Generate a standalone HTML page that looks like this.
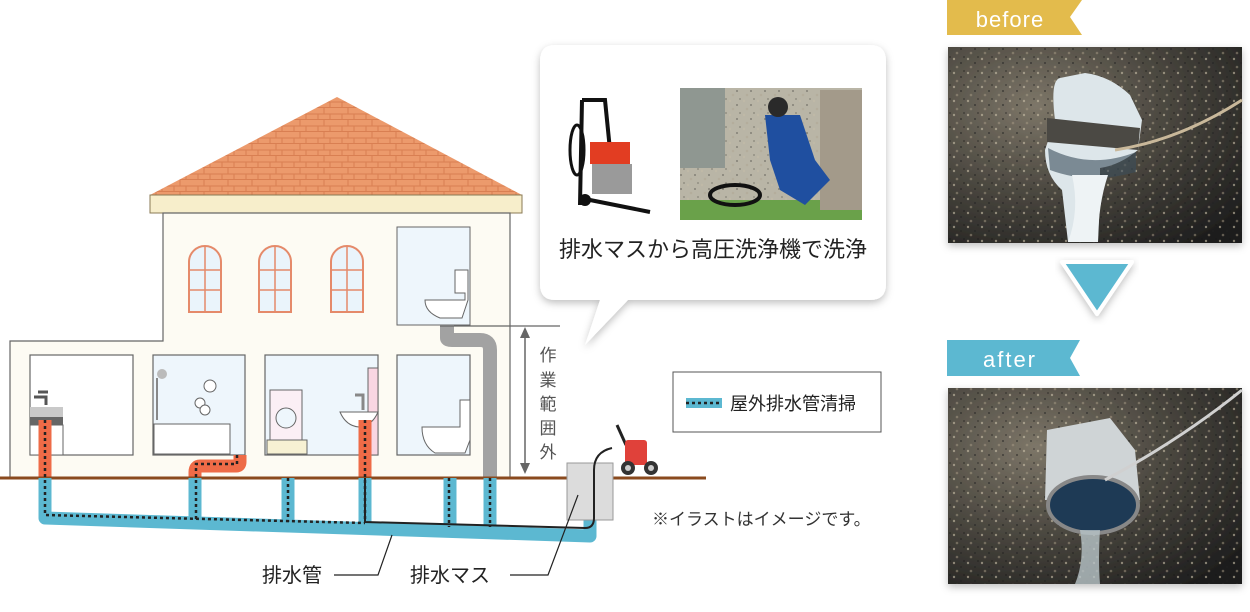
<!DOCTYPE html>
<html><head><meta charset="utf-8"><style>
html,body{margin:0;padding:0;background:#fff;width:1250px;height:612px;overflow:hidden}
svg{display:block}
text{font-family:"Liberation Sans","Noto Sans CJK JP",sans-serif}
</style></head><body>
<svg width="1250" height="612" viewBox="0 0 1250 612" xmlns="http://www.w3.org/2000/svg">
<defs>
<pattern id="brick" width="24" height="12" patternUnits="userSpaceOnUse">
<rect width="24" height="12" fill="#ec9a6c"/>
<path d="M0 11.5H24M12 0V6M0 6H24M6 6V12M18 6V12" stroke="#d97f52" stroke-width="1" fill="none"/>
</pattern>
<pattern id="speck" width="14" height="14" patternUnits="userSpaceOnUse">
<circle cx="2" cy="3" r="1.2" fill="#c9bfa8" opacity="0.6"/><circle cx="9" cy="7" r="1" fill="#222" opacity="0.6"/><circle cx="5" cy="11" r="1.3" fill="#a89c86" opacity="0.5"/><circle cx="12" cy="1" r="0.9" fill="#111" opacity="0.5"/>
</pattern>
<filter id="sh" x="-10%" y="-10%" width="120%" height="130%"><feDropShadow dx="0" dy="3" stdDeviation="4" flood-color="#000" flood-opacity="0.25"/></filter>
<radialGradient id="ph1" cx="0.3" cy="0.3" r="0.9"><stop offset="0" stop-color="#7d7668"/><stop offset="0.55" stop-color="#45423b"/><stop offset="1" stop-color="#1c1c1c"/></radialGradient>
</defs>

<polygon points="150,195 337,97 522,195" fill="url(#brick)"/>
<rect x="150" y="195" width="372" height="18" fill="#f7eecb" stroke="#8a7a55" stroke-width="1"/>
<path d="M163 213H510V478H10V341H163Z" fill="#fdfbf3" stroke="#666" stroke-width="1.2"/>
<g fill="#eaf4fb" stroke="#e58a6a" stroke-width="2">
<path d="M189 312V262A16 16 0 0 1 221 262V312Z"/><path d="M259 312V262A16 16 0 0 1 291 262V312Z"/><path d="M331 312V262A16 16 0 0 1 363 262V312Z"/>
</g>
<g stroke="#e58a6a" stroke-width="1.5">
<path d="M205 247V312M189 270H221M189 290H221"/><path d="M275 247V312M259 270H291M259 290H291"/><path d="M347 247V312M331 270H363M331 290H363"/>
</g>
<rect x="397" y="227" width="73" height="98" fill="#eef6fc" stroke="#666"/>
<path d="M425 300H465V293H455V270H468V300L462 318H440Q425 312 425 300Z" fill="#fff" stroke="#666"/>
<g fill="#eef6fc" stroke="#666" stroke-width="1.2">
<rect x="30" y="355" width="103" height="100" fill="#fff"/>
<rect x="153" y="355" width="92" height="100"/>
<rect x="265" y="355" width="113" height="100"/>
<rect x="397" y="355" width="73" height="100"/>
</g>
<rect x="30" y="407" width="33" height="10" fill="#c9c9c9"/><rect x="30" y="417" width="33" height="8" fill="#666"/>
<rect x="30" y="425" width="33" height="30" fill="#fff" stroke="#666"/>
<path d="M34 397H46V405M38 392H48" stroke="#555" stroke-width="3" fill="none"/>
<rect x="154" y="424" width="76" height="30" fill="#fff" stroke="#666"/>
<circle cx="162" cy="374" r="5" fill="#bbb"/><path d="M157 378V420" stroke="#888" stroke-width="2"/>
<g fill="#fff" stroke="#666"><circle cx="210" cy="386" r="6"/><circle cx="200" cy="403" r="5"/><circle cx="205" cy="410" r="5"/></g>
<rect x="270" y="390" width="32" height="50" fill="#fbeff5" stroke="#666"/><circle cx="286" cy="418" r="10" fill="#eef6fc" stroke="#666"/>
<rect x="267" y="440" width="40" height="14" fill="#f7f1d3" stroke="#666"/>
<rect x="368" y="368" width="10" height="87" fill="#f9d6e2" stroke="#666"/>
<path d="M340 412H378Q372 426 359 427Q346 426 340 412Z" fill="#fff" stroke="#666"/>
<path d="M355 395H363V410" stroke="#888" stroke-width="3" fill="none"/>
<path d="M422 427H460V400H470V440L465 453H435Q422 445 422 427Z" fill="#fff" stroke="#666"/>
<path d="M447 325V338Q447 340 452 340H480Q490 340 490 350V478" stroke="#a2a2a2" stroke-width="14" fill="none"/>
<path d="M440 326H560" stroke="#666" stroke-width="1.2"/>
<path d="M525 330V472" stroke="#666" stroke-width="1.5"/>
<polygon points="525,327 520,338 530,338" fill="#666"/><polygon points="525,474 520,463 530,463" fill="#666"/>
<g font-size="17" fill="#555" text-anchor="middle"><text x="548" y="361">作</text><text x="548" y="386">業</text><text x="548" y="410">範</text><text x="548" y="434">囲</text><text x="548" y="458">外</text></g>
<g stroke="#ee6b47" stroke-width="13" fill="none">
<path d="M45 420V478"/><path d="M365 420V478"/><path d="M240 455V462Q240 466 236 466H200Q195 466 195 472V478"/>
</g>
<path d="M0 478H706" stroke="#8a4a1e" stroke-width="3"/>
<g stroke="#5cb8d1" stroke-width="13" fill="none" stroke-linejoin="round">
<path d="M45 478V518L590 536V505"/>
<path d="M195 478V521M288 478V524M365 478V526M450 478V529M490 478V530"/>
</g>
<g stroke="#222" stroke-width="2.5" stroke-dasharray="3,3" fill="none">
<path d="M45 420V515L365 523"/>
<path d="M237 455V464H196V520"/><path d="M288 478V522"/><path d="M365 420V523"/><path d="M449 478V527"/><path d="M490 478V527"/>
</g>
<rect x="567" y="463" width="46" height="57" fill="#dcdcdc" stroke="#999"/>
<path d="M365 478V522L585 528Q594 528 594 518V470Q594 452 612 448" stroke="#222" stroke-width="2" fill="none"/>
<path d="M617 425L626 445" stroke="#222" stroke-width="3"/>
<rect x="625" y="440" width="22" height="25" rx="3" fill="#e0413a"/>
<circle cx="628" cy="468" r="7" fill="#333"/><circle cx="628" cy="468" r="3" fill="#ccc"/>
<circle cx="651" cy="468" r="7" fill="#333"/><circle cx="651" cy="468" r="3" fill="#ccc"/>
<path d="M334 575H378L392 535M510 575H548L578 495" stroke="#222" stroke-width="1.2" fill="none"/>
<text x="262" y="582" font-size="20" fill="#222">排水管</text>
<text x="410" y="582" font-size="20" fill="#222">排水マス</text>
<text x="652" y="525" font-size="17" fill="#333">※イラストはイメージです。</text>
<rect x="673" y="372" width="208" height="60" fill="#fff" stroke="#555"/>
<rect x="686" y="398" width="36" height="10" fill="#5cb8d1"/>
<path d="M686 403H722" stroke="#222" stroke-width="2.5" stroke-dasharray="3,3"/>
<text x="730" y="410" font-size="18" fill="#222">屋外排水管清掃</text>
<g filter="url(#sh)">
<path d="M555 45H870Q886 45 886 61V284Q886 300 870 300H628L585 345L600 300H555Q540 300 540 284V61Q540 45 555 45Z" fill="#fff"/>
</g>
<!-- machine -->
<path d="M582 100L580 205M582 100H605L610 150" stroke="#111" stroke-width="4" fill="none"/>
<ellipse cx="577" cy="150" rx="7" ry="25" fill="none" stroke="#111" stroke-width="3"/>
<rect x="590" y="142" width="40" height="22" fill="#e23d22"/>
<rect x="592" y="164" width="40" height="30" fill="#9a9a9a"/>
<path d="M590 200L650 212" stroke="#111" stroke-width="4"/>
<circle cx="585" cy="200" r="6" fill="#111"/>
<!-- worker photo -->
<rect x="680" y="88" width="182" height="132" fill="#b9b5a6"/>
<rect x="680" y="88" width="182" height="132" fill="url(#speck)" opacity="0.6"/>
<rect x="680" y="88" width="45" height="80" fill="#8f9791"/>
<rect x="680" y="200" width="182" height="20" fill="#6aa14a"/>
<rect x="820" y="90" width="42" height="120" fill="#a39a8a"/>
<path d="M765 115H800L815 160L830 180L805 205L780 190L770 160Z" fill="#1f4fa0"/>
<circle cx="778" cy="107" r="10" fill="#2a2a2a"/>
<ellipse cx="735" cy="195" rx="25" ry="10" fill="none" stroke="#111" stroke-width="4"/>
<text x="713" y="257" font-size="22" fill="#222" text-anchor="middle">排水マスから高圧洗浄機で洗浄</text>
<!-- right side -->
<polygon points="947,0 1082,0 1070,17 1082,35 947,35" fill="#e3bb4c"/>
<text x="1010" y="27" font-size="22" fill="#fff" text-anchor="middle" letter-spacing="1">before</text>
<g filter="url(#sh)"><rect x="948" y="47" width="294" height="196" fill="url(#ph1)"/></g>
<rect x="948" y="47" width="294" height="196" fill="url(#speck)"/>
<path d="M1055 120Q1050 80 1060 78L1085 73Q1110 76 1130 95L1142 120L1138 150Q1120 165 1100 168L1100 200L1098 242H1068L1062 190Q1045 175 1045 150Z" fill="#dde6ea"/>
<path d="M1047 118L1140 128L1138 150L1047 142Z" fill="#4b4944"/>
<path d="M1048 148Q1090 170 1136 152L1136 172Q1090 185 1050 170Z" fill="#3b4c5a" opacity="0.6"/>
<path d="M1072 175Q1080 210 1068 242H1098Q1098 205 1108 175Z" fill="#eef3f5"/>
<path d="M1115 150Q1180 140 1242 100" stroke="#c9b89a" stroke-width="3" fill="none"/>
<polygon points="1062,262 1132,262 1097,314" fill="#5cb8d1" stroke="#fff" stroke-width="4" stroke-linejoin="round" filter="url(#sh)"/>
<polygon points="947,340 1080,340 1070,358 1080,376 947,376" fill="#5cb8d1"/>
<text x="1010" y="367" font-size="22" fill="#fff" text-anchor="middle" letter-spacing="2">after</text>
<g filter="url(#sh)"><rect x="948" y="388" width="294" height="196" fill="url(#ph1)"/></g>
<rect x="948" y="388" width="294" height="196" fill="url(#speck)"/>
<path d="M1047 430L1110 418L1135 450L1140 500L1045 500Z" fill="#cfd4d6"/>
<ellipse cx="1093" cy="505" rx="45" ry="28" fill="#1e3a55" stroke="#888" stroke-width="4"/>
<path d="M1080 530Q1085 560 1075 584H1100Q1098 560 1100 530Z" fill="#b8c4c8" opacity="0.8"/>
<path d="M1105 480Q1180 440 1242 390" stroke="#d0d0d0" stroke-width="3" fill="none"/>
</svg>
</body></html>
